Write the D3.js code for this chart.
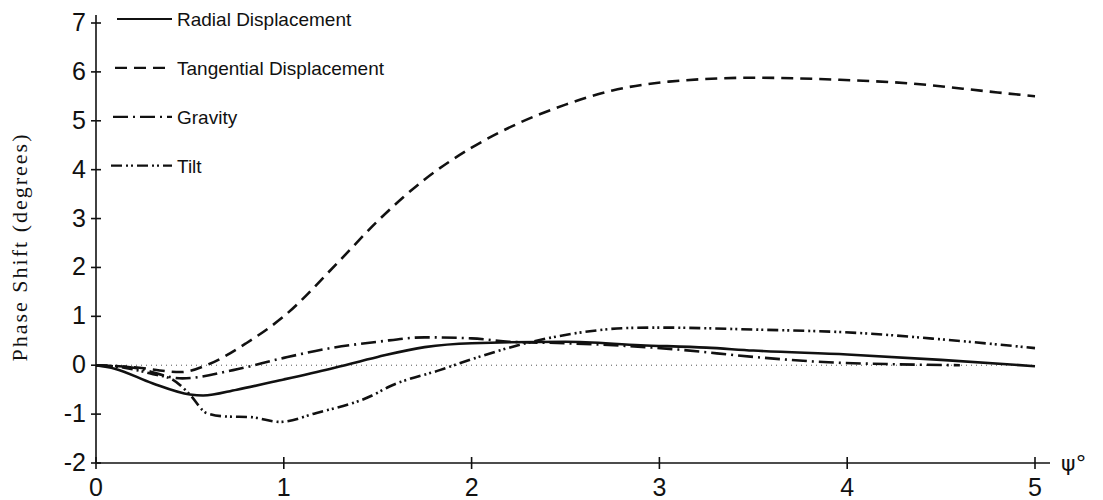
<!DOCTYPE html>
<html>
<head>
<meta charset="utf-8">
<script src="https://cdn.jsdelivr.net/npm/d3@7"></script>
<style>
  body { margin: 0; background: #fff; }
  text { fill: #111; }
</style>
</head>
<body>
<div id="chart"></div>
<script>
// phase shift vs psi
const seriesNames = ['Radial Displacement', 'Tangential Displacement', 'Gravity', 'Tilt'];

const radialX = [0, 0.1, 0.3, 0.5, 0.57, 0.75, 1.0, 1.25, 1.5, 1.75, 2.0, 2.5, 2.9, 3.25, 3.5, 4.0, 4.5, 5.0];
const radialY = [0, -0.07, -0.37, -0.6, -0.62, -0.5, -0.29, -0.07, 0.17, 0.37, 0.45, 0.48, 0.41, 0.36, 0.3, 0.22, 0.11, -0.02];

const tangentialX = [0, 0.2, 0.45, 0.6, 0.8, 1.0, 1.3, 1.5, 1.75, 2.0, 2.25, 2.5, 2.75, 3.05, 3.5, 3.95, 4.35, 4.75, 5.0];
const tangentialY = [0, -0.04, -0.14, 0.02, 0.45, 1.0, 2.15, 2.95, 3.8, 4.45, 4.95, 5.33, 5.62, 5.8, 5.88, 5.84, 5.76, 5.6, 5.5];

const gravityX = [0, 0.2, 0.46, 0.73, 1.0, 1.25, 1.5, 1.75, 2.0, 2.2, 2.5, 2.8, 3.1, 3.5, 3.9, 4.25, 4.6];
const gravityY = [0, -0.05, -0.27, -0.1, 0.15, 0.35, 0.48, 0.57, 0.55, 0.48, 0.45, 0.4, 0.32, 0.17, 0.06, 0.02, 0.0];

const tiltX = [0, 0.15, 0.29, 0.41, 0.5, 0.59, 0.7, 0.82, 0.98, 1.17, 1.47, 1.56, 1.83, 2.03, 2.29, 2.6, 2.82, 3.0, 3.5, 4.06, 4.5, 5.0];
const tiltY = [0, -0.05, -0.17, -0.3, -0.6, -0.98, -1.05, -1.06, -1.16, -0.98, -0.62, -0.44, -0.1, 0.16, 0.45, 0.68, 0.76, 0.77, 0.73, 0.66, 0.53, 0.35];

const xTicks = [0, 1, 2, 3, 4, 5];
const yTicks = [-2, -1, 0, 1, 2, 3, 4, 5, 6, 7];

const width = 1103;
const height = 500;

const dashes = ['none', '12,7', '15,5,2,5', '11,4,2,3,2,4'];

const svg = d3.select('#chart')
  .append('svg')
    .attr('width', width)
    .attr('height', height);

const xScale = d3.scaleLinear()
    .domain([0, 5])
    .range([96, 1035]);

const yScale = d3.scaleLinear()
    .domain([-2, 7])
    .range([463, 23]);

const series = [
  [radialX, radialY],
  [tangentialX, tangentialY],
  [gravityX, gravityY],
  [tiltX, tiltY]
].map(([xs, ys], i) => ({
  name: seriesNames[i],
  dash: dashes[i],
  values: xs.map((x, j) => ({x, y: ys[j]}))
}));

// zero reference, dotted
svg.append('line')
    .attr('x1', xScale(0))
    .attr('x2', xScale(5))
    .attr('y1', yScale(0))
    .attr('y2', yScale(0))
    .attr('stroke', '#555')
    .attr('stroke-width', 1)
    .attr('stroke-dasharray', '1,4');

// axes, drawn by hand so ticks cross the line like the plotter did
const axes = svg.append('g')
    .attr('stroke', '#111')
    .attr('stroke-width', 1.6);

axes.append('line')
    .attr('x1', xScale(0)).attr('x2', xScale(0))
    .attr('y1', yScale(-2)).attr('y2', yScale(7) - 8);

axes.append('line')
    .attr('x1', xScale(0)).attr('x2', xScale(5) + 15)
    .attr('y1', yScale(-2)).attr('y2', yScale(-2));

axes.selectAll('.ytick')
  .data(yTicks)
  .join('line')
    .attr('class', 'ytick')
    .attr('x1', xScale(0) - 5)
    .attr('x2', xScale(0) + 5)
    .attr('y1', d => yScale(d))
    .attr('y2', d => yScale(d));

axes.selectAll('.xtick')
  .data(xTicks)
  .join('line')
    .attr('class', 'xtick')
    .attr('x1', d => xScale(d))
    .attr('x2', d => xScale(d))
    .attr('y1', yScale(-2) - 6)
    .attr('y2', yScale(-2) + 6);

svg.selectAll('.ylabel')
  .data(yTicks)
  .join('text')
    .attr('class', 'ylabel')
    .attr('x', xScale(0) - 10)
    .attr('y', d => yScale(d) + 8)
    .attr('text-anchor', 'end')
    .attr('font-family', 'Liberation Sans Narrow, Liberation Sans, sans-serif')
    .attr('font-size', 25)
    .text(d => d);

svg.selectAll('.xlabel')
  .data(xTicks)
  .join('text')
    .attr('class', 'xlabel')
    .attr('x', d => xScale(d))
    .attr('y', yScale(-2) + 33)
    .attr('text-anchor', 'middle')
    .attr('font-family', 'Liberation Sans Narrow, Liberation Sans, sans-serif')
    .attr('font-size', 25)
    .text(d => d);

svg.append('text')
    .attr('x', xScale(5) + 26)
    .attr('y', yScale(-2) + 8)
    .attr('font-family', 'DejaVu Sans, sans-serif')
    .attr('font-size', 22)
    .text('\u03C8\u00B0');

svg.append('text')
    .attr('transform', `translate(27,${(yScale(-2) + yScale(7)) / 2 + 4}) rotate(-90)`)
    .attr('text-anchor', 'middle')
    .attr('font-family', 'Liberation Serif, serif')
    .attr('font-size', 22)
    .attr('letter-spacing', 2)
    .text('Phase Shift (degrees)');

// curves
const line = d3.line()
    .x(d => xScale(d.x))
    .y(d => yScale(d.y))
    .curve(d3.curveMonotoneX);

svg.append('g')
  .selectAll('path')
  .data(series)
  .join('path')
    .attr('fill', 'none')
    .attr('stroke', '#111')
    .attr('stroke-width', 2.6)
    .attr('stroke-dasharray', d => d.dash)
    .attr('d', d => line(d.values));

// legend sits against the upper y ticks
const legend = svg.append('g')
  .selectAll('g')
  .data(series)
  .join('g')
    .attr('transform', (d, i) => `translate(0,${yScale(7 - i) - 4})`);

legend.append('line')
    .attr('x1', (d, i) => 117 - i * 2)
    .attr('x2', 172)
    .attr('stroke', '#111')
    .attr('stroke-width', 2.2)
    .attr('stroke-dasharray', d => d.dash);

legend.append('text')
    .attr('x', 177)
    .attr('y', 7)
    .attr('font-family', 'Liberation Sans, sans-serif')
    .attr('font-size', 19)
    .text(d => d.name);
</script>
</body>
</html>
